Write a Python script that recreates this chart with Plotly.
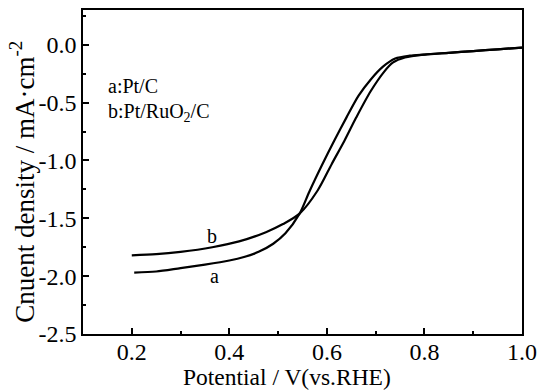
import plotly.graph_objects as go

# Curve a: Pt/C
a_x = [0.205, 0.25, 0.30, 0.35, 0.40, 0.43, 0.46, 0.49, 0.515, 0.544, 0.564, 0.59, 0.615, 0.64, 0.665, 0.69, 0.715, 0.74, 0.77, 0.80, 0.85, 0.90, 0.95, 1.00]
a_y = [-1.97, -1.96, -1.93, -1.90, -1.865, -1.835, -1.79, -1.72, -1.63, -1.46, -1.27, -1.04, -0.83, -0.63, -0.44, -0.30, -0.19, -0.12, -0.095, -0.085, -0.07, -0.055, -0.04, -0.025]

# Curve b: Pt/RuO2/C
b_x = [0.20, 0.25, 0.30, 0.365, 0.42, 0.475, 0.51, 0.544, 0.581, 0.61, 0.636, 0.66, 0.69, 0.718, 0.735, 0.76, 0.80, 0.85, 0.90, 0.95, 1.00]
b_y = [-1.82, -1.81, -1.79, -1.75, -1.70, -1.62, -1.55, -1.46, -1.26, -1.03, -0.83, -0.63, -0.40, -0.23, -0.155, -0.11, -0.085, -0.07, -0.055, -0.04, -0.025]

x_ticks = [0.2, 0.4, 0.6, 0.8, 1.0]
y_ticks = [0.0, -0.5, -1.0, -1.5, -2.0, -2.5]

FONT = "Liberation Serif"

fig = go.Figure()
fig.add_trace(go.Scatter(x=a_x, y=a_y, mode="lines", line=dict(color="black", width=2.2, shape="spline", smoothing=0.8), name="a"))
fig.add_trace(go.Scatter(x=b_x, y=b_y, mode="lines", line=dict(color="black", width=2.2, shape="spline", smoothing=0.8), name="b"))

axis_common = dict(
    showline=True, linecolor="black", linewidth=1.5, mirror=True,
    ticks="inside", ticklen=6, tickwidth=1.5, tickcolor="black",
    showgrid=False, zeroline=False,
    tickfont=dict(family=FONT, size=24, color="black"),
    automargin=False,
)

fig.update_xaxes(
    range=[0.1, 1.0], tickvals=x_ticks, ticktext=[f"{v:.1f}" for v in x_ticks],
    minor=dict(ticks="inside", ticklen=3, tickwidth=1.5, tickcolor="black", dtick=0.1, tick0=0.1),
    ticklabelstandoff=-5,
    **axis_common,
)
fig.update_yaxes(
    range=[-2.5, 0.3], tickvals=y_ticks, ticktext=[f"{v:.1f}" for v in y_ticks],
    minor=dict(ticks="inside", ticklen=3, tickwidth=1.5, tickcolor="black", dtick=0.25, tick0=0),
    **axis_common,
)

# axis titles
fig.add_annotation(x=0.5, y=0, xref="paper", yref="paper", xanchor="center", yanchor="middle",
                   xshift=-16, yshift=-43,
                   text="Potential / V(vs.RHE)", showarrow=False,
                   font=dict(family=FONT, size=23.5, color="black"))
fig.add_annotation(x=0, y=0.47, xref="paper", yref="paper", xanchor="center", yanchor="middle",
                   xshift=-61,
                   text="Cnuent density / mA·cm<sup>-2</sup>", textangle=-90,
                   showarrow=False, font=dict(family=FONT, size=27, color="black"))

fig.add_annotation(x=0.148, y=-0.36, xref="x", yref="y", xanchor="left",
                   text="a:Pt/C", showarrow=False, font=dict(family=FONT, size=20, color="black"))
fig.add_annotation(x=0.148, y=-0.59, xref="x", yref="y", xanchor="left",
                   text="b:Pt/RuO<sub>2</sub>/C", showarrow=False, font=dict(family=FONT, size=20, color="black"))
fig.add_annotation(x=0.365, y=-1.65, xref="x", yref="y", text="b", showarrow=False,
                   font=dict(family=FONT, size=20, color="black"))
fig.add_annotation(x=0.37, y=-2.0, xref="x", yref="y", text="a", showarrow=False,
                   font=dict(family=FONT, size=20, color="black"))

fig.update_layout(
    width=546, height=391,
    margin=dict(l=83, r=24, t=10, b=57),
    paper_bgcolor="white", plot_bgcolor="white",
    showlegend=False,
    font=dict(family=FONT, color="black"),
)

fig.write_html("out.html")
